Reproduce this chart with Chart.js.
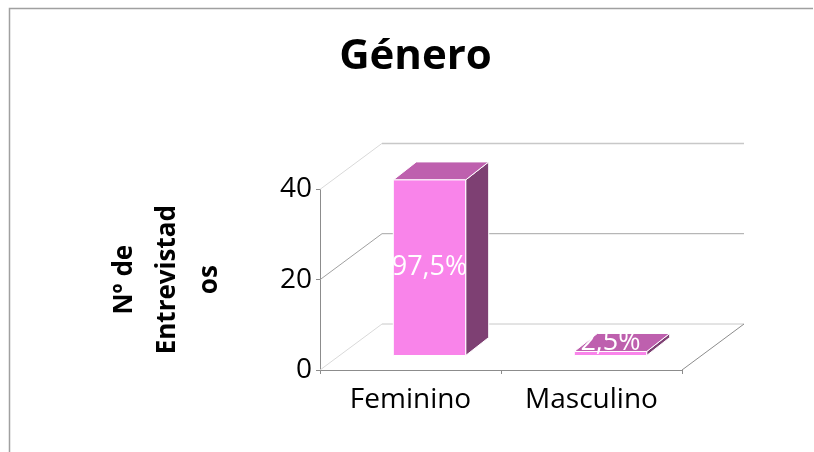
<!DOCTYPE html>
<html>
<head>
<meta charset="utf-8">
<script src="https://cdn.jsdelivr.net/npm/chart.js@4.4.0/dist/chart.umd.min.js"></script>
<style>
  body { margin: 0; background: #fff; }
  canvas { display: block; }
</style>
</head>
<body>
<canvas id="generoChart" width="814" height="452"></canvas>
<script>
// data
var categories = ['Feminino', 'Masculino'];
var entrevistados = [39, 1];
var percentLabels = ['97,5%', '2,5%'];
var yTicks = [0, 20, 40];

var font = '"Open Sans", "Noto Sans", sans-serif';

// 3d depth of the box (back wall offset) and of the bars
var depthX = 62, depthY = -46;
var barShiftX = 19, barShiftY = -14;
var barDepthX = 23, barDepthY = -18;

// border round the chart, only top and left show
var frame = {
  id: 'frame',
  beforeDraw: function(chart) {
    var ctx = chart.ctx;
    ctx.save();
    ctx.strokeStyle = '#a0a0a0';
    ctx.lineWidth = 1.5;
    ctx.beginPath();
    ctx.moveTo(9.5, 460);
    ctx.lineTo(9.5, 8.5);
    ctx.lineTo(813, 8.5);
    ctx.stroke();
    ctx.restore();
  }
};

// walls and floor
var walls = {
  id: 'walls',
  beforeDatasetsDraw: function(chart) {
    var ctx = chart.ctx;
    var x = chart.scales.x, y = chart.scales.y;
    var left = x.left, right = x.right;
    ctx.save();
    ctx.lineWidth = 1;
    yTicks.forEach(function(v) {
      var p = y.getPixelForValue(v);
      // side wall diagonal
      ctx.strokeStyle = v === 20 ? '#a0a0a0' : '#d9d9d9';
      ctx.beginPath();
      ctx.moveTo(left, p);
      ctx.lineTo(left + depthX, p + depthY);
      ctx.stroke();
      // back wall line
      ctx.strokeStyle = v === 20 ? '#a6a6a6' : '#c8c8c8';
      ctx.lineWidth = v === 40 ? 1.5 : 1;
      ctx.beginPath();
      ctx.moveTo(left + depthX, p + depthY);
      ctx.lineTo(right + depthX, p + depthY);
      ctx.stroke();
      ctx.lineWidth = 1;
    });
    // floor right edge
    var p0 = y.getPixelForValue(0);
    ctx.strokeStyle = '#8c8c8c';
    ctx.beginPath();
    ctx.moveTo(right, p0);
    ctx.lineTo(right + depthX, p0 + depthY);
    ctx.stroke();
    ctx.restore();
  }
};

// 3d bars drawn from the bar elements
var bars3d = {
  id: 'bars3d',
  afterDatasetsDraw: function(chart) {
    var ctx = chart.ctx;
    var meta = chart.getDatasetMeta(0);
    ctx.save();
    ctx.lineWidth = 1;
    ctx.strokeStyle = '#ffffff';
    ctx.lineJoin = 'round';
    meta.data.forEach(function(el, i) {
      var hw = el.width / 2;
      var x0 = el.x - hw + barShiftX, x1 = el.x + hw + barShiftX;
      var top = el.y + barShiftY, base = el.base + barShiftY;

      // side
      ctx.fillStyle = '#7e4073';
      ctx.beginPath();
      ctx.moveTo(x1, top);
      ctx.lineTo(x1 + barDepthX, top + barDepthY);
      ctx.lineTo(x1 + barDepthX, base + barDepthY);
      ctx.lineTo(x1, base);
      ctx.closePath();
      ctx.fill();
      ctx.stroke();

      // top
      ctx.fillStyle = '#be60ae';
      ctx.beginPath();
      ctx.moveTo(x0, top);
      ctx.lineTo(x0 + barDepthX, top + barDepthY);
      ctx.lineTo(x1 + barDepthX, top + barDepthY);
      ctx.lineTo(x1, top);
      ctx.closePath();
      ctx.fill();
      ctx.stroke();

      // front
      ctx.fillStyle = '#f984ea';
      ctx.fillRect(x0, top, x1 - x0, base - top);
      ctx.strokeRect(x0, top, x1 - x0, base - top);

      // label
      ctx.fillStyle = '#ffffff';
      ctx.font = '27px ' + font;
      ctx.textAlign = 'center';
      ctx.textBaseline = 'middle';
      var ly = Math.min((top + base) / 2, base - 13);
      ctx.fillText(percentLabels[i], (x0 + x1) / 2, ly);
    });
    ctx.restore();
  }
};

var ctx = document.getElementById('generoChart').getContext('2d');
var chart = new Chart(ctx, {
  type: 'bar',
  data: {
    labels: categories,
    datasets: [{
      data: entrevistados,
      backgroundColor: 'rgba(0,0,0,0)',
      categoryPercentage: 1,
      barPercentage: 0.4
    }]
  },
  options: {
    responsive: false,
    animation: false,
    layout: { padding: { left: 17, right: 0, top: 0, bottom: 0 } },
    plugins: {
      legend: { display: false },
      tooltip: { enabled: false },
      title: {
        display: true,
        text: 'Género',
        color: '#000',
        font: { family: font, size: 42, weight: 'bold' },
        padding: { top: 32, bottom: 107 }
      }
    },
    scales: {
      x: {
        grid: { offset: true, drawOnChartArea: false, drawTicks: true, tickLength: 4, color: '#8c8c8c' },
        border: { display: true, color: '#8c8c8c' },
        ticks: { color: '#000', font: { family: font, size: 28 }, padding: 9 },
        afterFit: function(s) { s.height = 82; }
      },
      y: {
        position: 'left',
        min: 0,
        max: 40,
        afterBuildTicks: function(s) { s.ticks = yTicks.map(function(v) { return { value: v }; }); },
        grid: { drawOnChartArea: false, drawTicks: true, tickLength: 4, color: '#8c8c8c' },
        border: { display: true, color: '#8c8c8c' },
        ticks: { color: '#000', font: { family: font, size: 28 }, padding: 4 },
        title: {
          display: true,
          text: ['Nº de', 'Entrevistad', 'os'],
          color: '#000',
          font: { family: font, size: 26, weight: 'bold', lineHeight: 1.62 },
          padding: { top: 87, bottom: 0 }
        },
        afterFit: function(s) { s.width = 303; }
      },
      yRight: {
        position: 'right',
        display: true,
        grid: { display: false },
        border: { display: false },
        ticks: { display: false },
        afterFit: function(s) { s.width = 132; }
      }
    }
  },
  plugins: [frame, walls, bars3d]
});
</script>
</body>
</html>
